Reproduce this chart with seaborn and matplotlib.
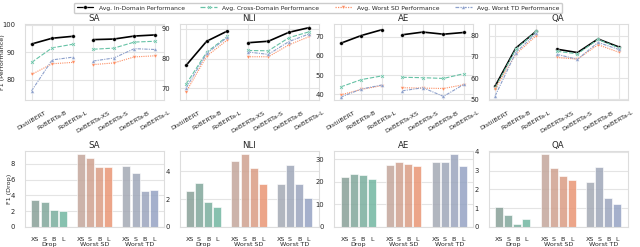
import numpy as np
import pandas as pd
import matplotlib
matplotlib.use("Agg")
import matplotlib.pyplot as plt
import matplotlib.transforms as mtransforms
import seaborn as sns

# ---- data -----------------------------------------------------------------
tasks = ["SA", "NLI", "AE", "QA"]
models = ["DistilBERT", "RoBERTa-B", "RoBERTa-L",
          "DeBERTa-XS", "DeBERTa-S", "DeBERTa-B", "DeBERTa-L"]
segments = [0, 0, 0, 1, 1, 1, 1]   # line is broken between the two families

series_names = ["Avg. In-Domain Performance", "Avg. Cross-Domain Performance",
                "Avg. Worst SD Performance", "Avg. Worst TD Performance"]

sa_id = [93.0, 95.1, 95.8, 94.6, 94.8, 95.9, 96.3]
sa_cd = [86.3, 91.6, 92.9, 91.1, 91.5, 93.7, 94.0]
sa_sd = [81.9, 85.8, 86.3, 85.5, 86.1, 88.3, 88.7]
sa_td = [75.9, 87.2, 88.2, 86.8, 87.9, 91.3, 91.0]

nli_id = [77.7, 85.8, 89.2, 85.3, 85.8, 88.8, 90.4]
nli_cd = [71.4, 82.1, 87.4, 82.7, 82.6, 87.0, 89.0]
nli_sd = [68.8, 80.8, 86.2, 80.6, 80.6, 84.6, 87.4]
nli_td = [70.1, 81.7, 87.1, 82.2, 81.4, 85.7, 88.3]

ae_id = [66.5, 70.5, 73.5, 70.9, 72.3, 71.2, 72.1]
ae_cd = [43.9, 47.7, 49.6, 48.9, 48.7, 48.3, 50.8]
ae_sd = [39.8, 42.6, 44.6, 43.5, 43.3, 43.1, 45.1]
ae_td = [38.6, 42.8, 44.9, 41.9, 43.5, 39.0, 45.3]

qa_id = [56.2, 74.1, 82.1, 73.6, 72.0, 78.4, 74.7]
qa_cd = [55.4, 73.6, 82.0, 72.6, 71.4, 78.2, 74.3]
qa_sd = [55.0, 71.2, 80.0, 69.7, 68.9, 75.7, 72.2]
qa_td = [51.6, 72.0, 81.1, 71.2, 68.8, 76.8, 73.5]

perf = {
    "SA": [sa_id, sa_cd, sa_sd, sa_td],
    "NLI": [nli_id, nli_cd, nli_sd, nli_td],
    "AE": [ae_id, ae_cd, ae_sd, ae_td],
    "QA": [qa_id, qa_cd, qa_sd, qa_td],
}
perf_ylim = {"SA": (72.5, 100.3), "NLI": (66, 91.6), "AE": (37, 76.5), "QA": (49.5, 85.5)}
perf_yticks = {"SA": [80, 90, 100], "NLI": [70, 80, 90],
               "AE": [40, 50, 60, 70], "QA": [50, 60, 70, 80]}

sizes = ["XS", "S", "B", "L"]
groups = ["Drop", "Worst SD", "Worst TD"]

sa_drop = [3.45, 3.2, 2.1, 2.0]
sa_wsd = [9.2, 8.7, 7.55, 7.6]
sa_wtd = [7.7, 6.8, 4.5, 4.7]

nli_drop = [2.55, 3.15, 1.8, 1.45]
nli_wsd = [4.75, 5.2, 4.2, 3.05]
nli_wtd = [3.05, 4.4, 3.1, 2.1]

ae_drop = [22.0, 23.6, 22.9, 21.3]
ae_wsd = [27.4, 29.0, 28.1, 27.0]
ae_wtd = [29.0, 28.8, 32.2, 26.8]

qa_drop = [1.05, 0.62, 0.17, 0.42]
qa_wsd = [3.87, 3.15, 2.7, 2.48]
qa_wtd = [2.42, 3.22, 1.57, 1.25]

drops = {
    "SA": [sa_drop, sa_wsd, sa_wtd],
    "NLI": [nli_drop, nli_wsd, nli_wtd],
    "AE": [ae_drop, ae_wsd, ae_wtd],
    "QA": [qa_drop, qa_wsd, qa_wtd],
}
drop_yticks = {"SA": [0, 2, 4, 6, 8], "NLI": [0, 2, 4],
               "AE": [0, 10, 20, 30], "QA": [0, 1, 2, 3, 4]}

# ---- style ----------------------------------------------------------------
sns.set_theme(style="whitegrid")
plt.rcParams["font.family"] = ["DejaVu Sans"]
plt.rcParams.update({
    "xtick.labelsize": 4.6,
    "ytick.labelsize": 4.9,
    "axes.titlesize": 6.2,
    "axes.labelsize": 4.6,
    "axes.edgecolor": "#dddddd",
    "axes.linewidth": 0.8,
    "grid.color": "#e4e4e4",
    "grid.linewidth": 0.8,
    "text.color": "0.15",
    "xtick.color": "0.15",
    "ytick.color": "0.15",
})

set2 = sns.color_palette("Set2")
line_colors = dict(zip(series_names, ["black", set2[0], set2[1], set2[2]]))
line_markers = dict(zip(series_names, ["o", "X", "v", "^"]))
line_dashes = dict(zip(series_names, ["", (4, 1.5), (1, 1), (3, 1, 1, 1)]))
line_widths = [1.2, 0.8, 0.8, 0.8]

fig, axes = plt.subplots(2, 4, figsize=(6.4, 2.47), dpi=100)
fig.subplots_adjust(left=0.039, right=0.981, top=0.903, bottom=0.081,
                    wspace=0.11, hspace=0.66)

# ---- top row: performance lines --------------------------------------------
for j, task in enumerate(tasks):
    ax = axes[0, j]
    rows = []
    for name, vals in zip(series_names, perf[task]):
        for k, v in enumerate(vals):
            rows.append({"x": k, "y": v, "series": name, "seg": segments[k]})
    df = pd.DataFrame(rows)
    sns.lineplot(data=df, x="x", y="y", hue="series", style="series",
                 units="seg", estimator=None, palette=line_colors,
                 markers=line_markers, dashes=line_dashes, markersize=2.6,
                 markeredgewidth=0.2, ax=ax, legend=(j == 0))
    for line in ax.get_lines():
        for name in series_names:
            if matplotlib.colors.same_color(line.get_color(), line_colors[name]):
                line.set_linewidth(line_widths[series_names.index(name)])
                break
    ax.set_xticks(range(len(models)))
    ax.set_xticklabels(models, rotation=30)
    ax.set_xlim(-0.32, 6.45)
    ax.set_ylim(*perf_ylim[task])
    ax.set_yticks(perf_yticks[task])
    ax.set_title(task, pad=2)
    ax.set_xlabel("")
    ax.set_ylabel("F1 (Performance)" if j == 0 else "")
    ax.tick_params(axis="both", pad=1)
axes[0, 0].yaxis.set_label_coords(-0.143, 0.5)

handles, labels = axes[0, 0].get_legend_handles_labels()
axes[0, 0].get_legend().remove()
for h in handles:
    h.set_linewidth(0.9)
fig.legend(handles, labels, loc="upper center", bbox_to_anchor=(0.497, 1.0),
           ncol=4, fontsize=4.3, frameon=True, handlelength=2.8,
           columnspacing=2.6, borderpad=0.4, handletextpad=0.9,
           fancybox=True, framealpha=1.0)

# ---- bottom row: drop bars -------------------------------------------------
props = [0.35, 0.55, 0.75, 1.0]
base_colors = [set2[0], set2[1], set2[2]]
slot_order = []
bar_colors = {}
for g, grp in enumerate(groups):
    for s, size in enumerate(sizes):
        key = f"{grp}|{size}"
        slot_order.append(key)
        bar_colors[key] = sns.desaturate(base_colors[g], props[s])
    if g < len(groups) - 1:
        slot_order.append(f"gap{g}")

for j, task in enumerate(tasks):
    ax = axes[1, j]
    rows = []
    for grp, vals in zip(groups, drops[task]):
        for size, v in zip(sizes, vals):
            rows.append({"slot": f"{grp}|{size}", "val": v})
    df = pd.DataFrame(rows)
    sns.barplot(data=df, x="slot", y="val", hue="slot", order=slot_order,
                palette=bar_colors, legend=False, width=0.88, alpha=0.85,
                edgecolor="white", linewidth=0.5, ax=ax)
    tick_pos = [i for i, k in enumerate(slot_order) if not k.startswith("gap")]
    ax.set_xticks(tick_pos)
    ax.set_xticklabels([k.split("|")[1] for k in slot_order if not k.startswith("gap")])
    ax.set_xlim(-1.15, len(slot_order) - 1 + 1.15)
    ax.set_yticks(drop_yticks[task])
    ax.grid(axis="x", visible=False)
    ax.set_title(task, pad=2)
    ax.set_xlabel("")
    ax.set_ylabel("F1 (Drop)" if j == 0 else "")
    ax.tick_params(axis="both", pad=1)
    trans = mtransforms.blended_transform_factory(ax.transData, ax.transAxes)
    for g, grp in enumerate(groups):
        ax.text(g * 5 + 1.5, -0.235, grp, transform=trans, ha="center",
                va="center", fontsize=4.6, color="0.15")
axes[1, 0].yaxis.set_label_coords(-0.095, 0.5)

plt.savefig("out.png", dpi=100)
